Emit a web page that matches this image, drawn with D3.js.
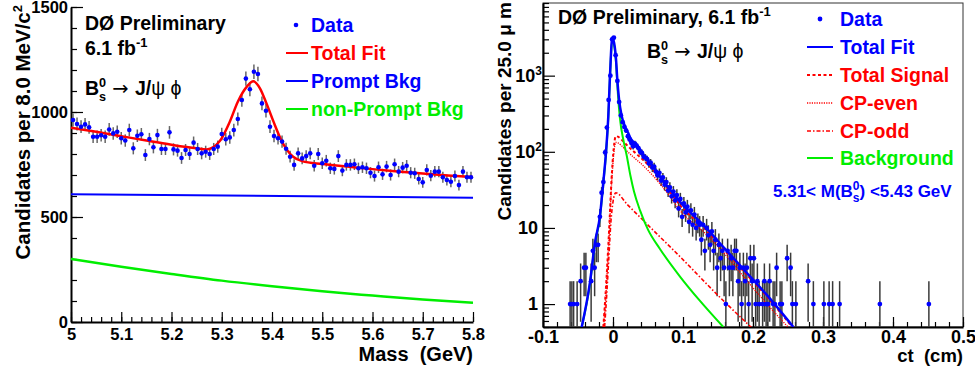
<!DOCTYPE html>
<html>
<head>
<meta charset="utf-8">
<script src="https://cdn.jsdelivr.net/npm/d3@7"></script>
<style>
  body { margin: 0; background: #fff; }
  svg text { font-family: "Liberation Sans", Arial, Helvetica, sans-serif; font-weight: bold; }
</style>
</head>
<body>
<svg id="chart" width="975" height="371"></svg>
<script>
// ---------- left: mass distribution, 8 MeV bins from 5.0 GeV ----------
const massLow = 5.0, massBinWidth = 0.008;
const massCounts = [
  962, 943, 930, 941, 927, 882, 882, 889, 882, 917,
  898, 906, 875, 864, 914, 827, 887, 894, 795, 871,
  832, 890, 824, 824, 903, 822, 816, 781, 819, 800,
  854, 824, 803, 811, 800, 824, 835, 895, 870, 879,
  914, 967, 1057, 1159, 1108, 1192, 1181, 1041, 1006, 930,
  886, 875, 859, 825, 787, 748, 803, 779, 790, 803,
  744, 800, 756, 768, 732, 729, 790, 721, 748, 748,
  751, 732, 737, 732, 711, 695, 737, 703, 740, 700,
  751, 716, 735, 744, 711, 708, 681, 665, 724, 697,
  716, 716, 689, 676, 668, 695, 652, 716, 689, 689
];
const massTotalFit = [
  [5.00, 925], [5.05, 906], [5.10, 885], [5.15, 864], [5.20, 844], [5.25, 827],
  [5.27, 822], [5.2965, 863], [5.316, 954], [5.332, 1049], [5.350, 1121],
  [5.363, 1146], [5.376, 1113], [5.389, 1041], [5.403, 954], [5.416, 879],
  [5.429, 822], [5.442, 787], [5.46, 766], [5.50, 752], [5.55, 740], [5.60, 728],
  [5.65, 717], [5.70, 707], [5.75, 698], [5.80, 690]
];
const massPromptBkg = [[5.0, 608], [5.8, 592]];
const massNonPromptBkg = [
  [5.0, 300], [5.1, 263], [5.2, 229], [5.3, 197], [5.4, 170],
  [5.5, 146], [5.6, 126], [5.7, 107], [5.8, 92]
];
const massTicks = [5, 5.1, 5.2, 5.3, 5.4, 5.5, 5.6, 5.7, 5.8];
const massTickLabels = ["5", "5.1", "5.2", "5.3", "5.4", "5.5", "5.6", "5.7", "5.8"];
const candTicks = [0, 500, 1000, 1500];
const candTickLabels = ["0", "500", "1000", "1500"];

// ---------- right: proper decay length, 25 um bins ----------
const ctData = [
  [-0.06125, 1], [-0.05875, 1], [-0.05625, 1], [-0.05125, 1], [-0.04625, 2],
  [-0.04125, 3], [-0.03875, 3], [-0.03125, 2], [-0.02875, 5], [-0.02625, 3],
  [-0.02375, 6], [-0.02125, 6], [-0.01875, 14], [-0.01625, 29], [-0.01375, 40],
  [-0.01125, 98], [-0.00875, 208], [-0.00625, 480], [-0.00375, 1000], [-0.00125, 3000],
  [0.00125, 3150], [0.00375, 1860], [0.00625, 854], [0.00875, 450], [0.01125, 300],
  [0.01375, 245], [0.01625, 212], [0.01875, 190], [0.02125, 160], [0.02375, 145],
  [0.02625, 130], [0.02875, 118], [0.03125, 128], [0.03375, 120], [0.03625, 112],
  [0.03875, 100], [0.04125, 97], [0.04375, 86], [0.04625, 84], [0.04875, 80],
  [0.05125, 70], [0.05375, 72], [0.05625, 62], [0.05875, 64], [0.06125, 55],
  [0.06375, 49], [0.06625, 53], [0.06875, 42], [0.07125, 46], [0.07375, 37],
  [0.07625, 40], [0.07875, 31], [0.08125, 34], [0.08375, 26], [0.08625, 30],
  [0.08875, 23], [0.09125, 27], [0.09375, 18], [0.09625, 24], [0.09875, 14],
  [0.10125, 21], [0.10375, 16], [0.10625, 19], [0.10875, 12], [0.11125, 17],
  [0.11375, 11], [0.11625, 15], [0.11875, 10], [0.12125, 12], [0.12375, 11],
  [0.12625, 7], [0.12875, 11], [0.13125, 5], [0.13375, 10], [0.13625, 8],
  [0.13875, 6], [0.14125, 9], [0.14375, 5], [0.14625, 7], [0.14875, 3],
  [0.15125, 6], [0.15375, 4], [0.15625, 5], [0.15875, 3], [0.16125, 1],
  [0.16375, 5], [0.16625, 3], [0.16875, 4], [0.17125, 3], [0.17375, 5],
  [0.17625, 5], [0.17875, 2], [0.18125, 3], [0.18375, 1], [0.18625, 3],
  [0.18875, 2], [0.19125, 3], [0.19375, 1], [0.19625, 4], [0.19875, 2],
  [0.20125, 4], [0.20375, 1], [0.20625, 2], [0.20875, 1], [0.21375, 1],
  [0.21625, 2], [0.21875, 1], [0.22125, 1], [0.22375, 2], [0.22875, 1],
  [0.23125, 1], [0.23375, 3], [0.23875, 1], [0.24125, 1], [0.24875, 4],
  [0.25375, 3], [0.25625, 1], [0.26125, 1], [0.27875, 2], [0.28625, 1],
  [0.30125, 1], [0.30875, 1], [0.31375, 1], [0.32375, 1], [0.38125, 1], [0.45125, 1]
];
const ctTotalFit = [
  [-0.0447, 0.5], [-0.0329, 1.93], [-0.0257, 6.45], [-0.0186, 14.4], [-0.0139, 39.5],
  [-0.0100, 98], [-0.0067, 295], [-0.0043, 1000], [-0.0010, 3200], [0.0004, 3000],
  [0.0043, 1650], [0.0061, 900], [0.0086, 490], [0.0124, 295], [0.0171, 215],
  [0.0219, 175], [0.0243, 155], [0.0314, 128], [0.0386, 108], [0.0433, 92],
  [0.0576, 63], [0.0696, 44], [0.0814, 32], [0.0957, 22], [0.130, 10.7],
  [0.160, 5.3], [0.190, 2.64], [0.220, 1.31], [0.2576, 0.5]
];
const ctSignal = [
  [-0.0138, 0.5], [-0.011, 1.2], [-0.008, 3.5], [-0.005, 12], [-0.002, 45],
  [0.001, 110], [0.004, 160], [0.007, 158], [0.012, 145], [0.02, 122], [0.03, 100],
  [0.04, 83], [0.0576, 57], [0.0814, 30], [0.0957, 20], [0.13, 10], [0.16, 5.0],
  [0.19, 2.5], [0.22, 1.25], [0.2576, 0.48]
];
const ctCpEven = [
  [-0.0135, 0.5], [-0.011, 1.0], [-0.008, 3], [-0.005, 10], [-0.002, 38],
  [0.001, 92], [0.004, 133], [0.007, 131], [0.012, 121], [0.02, 102], [0.03, 84],
  [0.04, 70], [0.0576, 48], [0.0814, 26], [0.0957, 17], [0.13, 8.8], [0.16, 4.5],
  [0.19, 2.1], [0.22, 1.0], [0.25, 0.5]
];
const ctCpOdd = [
  [-0.012, 0.5], [-0.009, 1.3], [-0.006, 4], [-0.003, 12], [0.000, 22], [0.004, 29],
  [0.02, 20.5], [0.05, 10.9], [0.0957, 4.2], [0.15, 1.3], [0.2, 0.47]
];
const ctBackground = [
  [-0.0447, 0.5], [-0.0329, 1.85], [-0.0257, 6.2], [-0.0186, 13.8], [-0.0139, 38],
  [-0.0100, 94], [-0.0067, 285], [-0.0043, 970], [-0.0010, 3050], [0.0004, 2850],
  [0.0043, 1500], [0.0071, 560], [0.0100, 270], [0.0150, 140], [0.0195, 90],
  [0.025, 48], [0.030, 30], [0.0386, 17], [0.050, 9.5], [0.0671, 5.3],
  [0.0957, 2.3], [0.1243, 1.1], [0.1576, 0.5]
];
const ctTicks = [-0.1, 0, 0.1, 0.2, 0.3, 0.4, 0.5];
const ctTickLabels = ["-0.1", "0", "0.1", "0.2", "0.3", "0.4", "0.5"];
const ctCountTicks = [1, 10, 100, 1000];

const BLUE = "#0000ff", RED = "#ff0000", GREEN = "#00ee00";
const svg = d3.select("#chart");

function styleAxis(g, width) {
  g.select(".domain").attr("stroke", "#000").attr("stroke-width", width);
  g.selectAll(".tick line").attr("stroke", "#000").attr("stroke-width", 1.2);
  g.selectAll("text").attr("fill", "#000");
}

function bsDecay(g, x, y, size) {
  const t = g.append("text").attr("x", x).attr("y", y).attr("font-size", size);
  t.append("tspan").text("B");
  t.append("tspan").attr("font-size", size * 0.65).attr("dy", -size * 0.42).text("0");
  t.append("tspan").attr("font-size", size * 0.65).attr("dx", -size * 0.36).attr("dy", size * 0.72).text("s");
  t.append("tspan").attr("dy", -size * 0.30).attr("font-weight", "normal")
    .style("font-family", "'DejaVu Sans', sans-serif").text(" \u2192 ");
  t.append("tspan").text("J/");
  t.append("tspan").attr("font-weight", "normal").text("\u03c8 \u03d5");
  return t;
}

// ================= left panel =================
const L = { x0: 71, x1: 473, y0: 7, y1: 322 };
const xM = d3.scaleLinear().domain([5.0, 5.8]).range([L.x0, L.x1]);
const yM = d3.scaleLinear().domain([0, 1500]).range([L.y1, L.y0]);
const gl = svg.append("g");

gl.append("g").attr("transform", `translate(0,${L.y1})`)
  .call(d3.axisBottom(xM).tickValues(d3.range(0, 41).map(i => 5 + i * 0.02)).tickSize(-5).tickSizeOuter(0).tickFormat(""))
  .call(g => { g.select(".domain").remove(); g.selectAll(".tick line").attr("stroke", "#000").attr("stroke-width", 1.2); });
gl.append("g").attr("transform", `translate(${L.x0},0)`)
  .call(d3.axisLeft(yM).tickValues(d3.range(0, 16).map(i => i * 100)).tickSize(-6).tickSizeOuter(0).tickFormat(""))
  .call(g => { g.select(".domain").remove(); g.selectAll(".tick line").attr("stroke", "#000").attr("stroke-width", 1.2); });

gl.append("g").attr("transform", `translate(0,${L.y1})`)
  .call(d3.axisBottom(xM).tickValues(massTicks).tickSize(-10).tickSizeOuter(0).tickPadding(6)
    .tickFormat((d, i) => massTickLabels[i]))
  .call(g => styleAxis(g, 2))
  .selectAll("text").attr("font-size", 16.5);
gl.append("g").attr("transform", `translate(${L.x0},0)`)
  .call(d3.axisLeft(yM).tickValues(candTicks).tickSize(-12).tickSizeOuter(0).tickPadding(3)
    .tickFormat((d, i) => candTickLabels[i]))
  .call(g => styleAxis(g, 2))
  .selectAll("text").attr("font-size", 16.5);

const lineM = d3.line().x(d => xM(d[0])).y(d => yM(d[1])).curve(d3.curveMonotoneX);
gl.append("path").datum(massPromptBkg).attr("d", lineM).attr("fill", "none").attr("stroke", BLUE).attr("stroke-width", 2);
gl.append("path").datum(massNonPromptBkg).attr("d", lineM).attr("fill", "none").attr("stroke", GREEN).attr("stroke-width", 2.5);

const massPts = massCounts.map((n, i) => ({ m: massLow + massBinWidth * (i + 0.5), n }));
gl.append("g").selectAll("line").data(massPts).join("line")
  .attr("x1", d => xM(d.m)).attr("x2", d => xM(d.m))
  .attr("y1", d => yM(d.n - Math.sqrt(d.n))).attr("y2", d => yM(d.n + Math.sqrt(d.n)))
  .attr("stroke", "#666").attr("stroke-width", 1.5);
gl.append("path").datum(massTotalFit).attr("d", lineM).attr("fill", "none").attr("stroke", RED).attr("stroke-width", 2.5);
gl.append("g").selectAll("circle").data(massPts).join("circle")
  .attr("cx", d => xM(d.m)).attr("cy", d => yM(d.n)).attr("r", 2.3).attr("fill", BLUE);

gl.append("text").attr("x", L.x1).attr("y", 361).attr("text-anchor", "end").attr("font-size", 20)
  .text("Mass\u00a0 (GeV)");
const ytl = gl.append("text").attr("transform", "translate(30,5) rotate(-90)").attr("text-anchor", "end").attr("font-size", 20.5);
ytl.append("tspan").text("Candidates per 8.0 MeV/c");
ytl.append("tspan").attr("font-size", 13).attr("dy", -8).text("2");

const LF = 19.5;
gl.append("text").attr("x", 85).attr("y", 30).attr("font-size", LF).text("D\u00d8 Preliminary");
const lum = gl.append("text").attr("x", 85).attr("y", 55).attr("font-size", LF).text("6.1 fb");
lum.append("tspan").attr("font-size", 13).attr("dy", -8).text("-1");
bsDecay(gl, 85, 95, LF);

const legL = [
  { label: "Data", color: BLUE, kind: "dot", y: 25 },
  { label: "Total Fit", color: RED, kind: "line", y: 53 },
  { label: "Prompt Bkg", color: BLUE, kind: "line", y: 81 },
  { label: "non-Prompt Bkg", color: GREEN, kind: "line", y: 109 }
];
legL.forEach(d => {
  if (d.kind === "dot") gl.append("circle").attr("cx", 296).attr("cy", d.y).attr("r", 2.3).attr("fill", d.color);
  else gl.append("line").attr("x1", 286).attr("x2", 308).attr("y1", d.y).attr("y2", d.y).attr("stroke", d.color).attr("stroke-width", 2);
  gl.append("text").attr("x", 311).attr("y", d.y + 7).attr("font-size", LF).attr("fill", d.color).text(d.label);
});

// ================= right panel =================
const R = { x0: 543, x1: 963, y0: 3, y1: 327 };
const xC = d3.scaleLinear().domain([-0.1, 0.5]).range([R.x0, R.x1]);
const yC = d3.scaleLog().domain([0.5, 9000]).range([R.y1, R.y0]);
const gr = svg.append("g");

svg.append("defs").append("clipPath").attr("id", "clipR")
  .append("rect").attr("x", R.x0).attr("y", R.y0).attr("width", R.x1 - R.x0).attr("height", R.y1 - R.y0);

gr.append("rect").attr("x", R.x0).attr("y", R.y0).attr("width", R.x1 - R.x0).attr("height", R.y1 - R.y0)
  .attr("fill", "none").attr("stroke", "#333").attr("stroke-width", 1);

const logMinor = [];
[0.1, 1, 10, 100, 1000].forEach(dec => { for (let k = 2; k <= 9; k++) { const v = k * dec; if (v >= 0.5 && v <= 9000) logMinor.push(v); } });

gr.append("g").attr("transform", `translate(0,${R.y1})`)
  .call(d3.axisBottom(xC).tickValues(d3.range(0, 31).map(i => -0.1 + i * 0.02)).tickSize(-5).tickSizeOuter(0).tickFormat(""))
  .call(g => { g.select(".domain").remove(); g.selectAll(".tick line").attr("stroke", "#000").attr("stroke-width", 1.2); });
gr.append("g").attr("transform", `translate(${R.x0},0)`)
  .call(d3.axisLeft(yC).tickValues(logMinor).tickSize(-6).tickSizeOuter(0).tickFormat(""))
  .call(g => { g.select(".domain").remove(); g.selectAll(".tick line").attr("stroke", "#000").attr("stroke-width", 1.2); });

gr.append("g").attr("transform", `translate(0,${R.y1})`)
  .call(d3.axisBottom(xC).tickValues(ctTicks).tickSize(-10).tickSizeOuter(0).tickPadding(3)
    .tickFormat((d, i) => ctTickLabels[i]))
  .call(g => styleAxis(g, 2))
  .selectAll("text").attr("font-size", 18);
const yAxR = gr.append("g").attr("transform", `translate(${R.x0},0)`)
  .call(d3.axisLeft(yC).tickValues(ctCountTicks).tickSize(-12).tickSizeOuter(0).tickPadding(5)
    .tickFormat(d => d >= 100 ? "10" : String(d)))
  .call(g => styleAxis(g, 2));
yAxR.selectAll(".tick text").attr("font-size", 18).each(function (d) {
  if (d >= 100) {
    const t = d3.select(this).attr("x", -1);
    t.append("tspan").attr("font-size", 12).attr("dy", "-0.55em").text(Math.round(Math.log10(d)));
  }
});

const plotR = gr.append("g").attr("clip-path", "url(#clipR)");
const lineC = d3.line().x(d => xC(d[0])).y(d => yC(d[1])).curve(d3.curveMonotoneX);
const yClamp = v => yC(Math.max(v, 0.5));

plotR.append("g").selectAll("line").data(ctData).join("line")
  .attr("x1", d => xC(d[0])).attr("x2", d => xC(d[0]))
  .attr("y1", d => yClamp(d[1] - Math.sqrt(d[1]))).attr("y2", d => yClamp(d[1] + Math.sqrt(d[1])))
  .attr("stroke", "#3a3a3a").attr("stroke-width", 1.5);

plotR.append("path").datum(ctCpOdd).attr("d", lineC).attr("fill", "none").attr("stroke", RED)
  .attr("stroke-width", 1.6).attr("stroke-dasharray", "4,2,1.5,2");
plotR.append("path").datum(ctCpEven).attr("d", lineC).attr("fill", "none").attr("stroke", RED)
  .attr("stroke-width", 1.4).attr("stroke-dasharray", "1.2,1.2");
plotR.append("path").datum(ctSignal).attr("d", lineC).attr("fill", "none").attr("stroke", RED)
  .attr("stroke-width", 2).attr("stroke-dasharray", "3,2.5");
plotR.append("path").datum(ctBackground).attr("d", lineC).attr("fill", "none").attr("stroke", GREEN).attr("stroke-width", 2);
plotR.append("g").selectAll("circle").data(ctData).join("circle")
  .attr("cx", d => xC(d[0])).attr("cy", d => yC(d[1])).attr("r", 2.4).attr("fill", BLUE);
plotR.append("path").datum(ctTotalFit).attr("d", lineC).attr("fill", "none").attr("stroke", BLUE).attr("stroke-width", 2.5);

gr.append("text").attr("x", R.x1).attr("y", 362).attr("text-anchor", "end").attr("font-size", 18.5)
  .text("ct\u00a0 (cm)");
gr.append("text").attr("transform", "translate(511,2) rotate(-90)").attr("text-anchor", "end").attr("font-size", 19)
  .text("Candidates per 25.0 \u03bc m");

const hdr = gr.append("text").attr("x", 558).attr("y", 24).attr("font-size", LF).text("D\u00d8 Preliminary, 6.1 fb");
hdr.append("tspan").attr("font-size", 13).attr("dy", -8).text("-1");
bsDecay(gr, 647, 58, LF);

const legR = [
  { label: "Data", color: BLUE, kind: "dot", dash: null, w: 0, y: 19 },
  { label: "Total Fit", color: BLUE, kind: "line", dash: null, w: 2, y: 47 },
  { label: "Total Signal", color: RED, kind: "line", dash: "3,2.5", w: 2, y: 75 },
  { label: "CP-even", color: RED, kind: "line", dash: "1.2,1.2", w: 1.5, y: 103 },
  { label: "CP-odd", color: RED, kind: "line", dash: "4,2,1.5,2", w: 1.6, y: 131 },
  { label: "Background", color: GREEN, kind: "line", dash: null, w: 2, y: 158 }
];
legR.forEach(d => {
  if (d.kind === "dot") gr.append("circle").attr("cx", 820).attr("cy", d.y).attr("r", 2.4).attr("fill", d.color);
  else gr.append("line").attr("x1", 807).attr("x2", 833).attr("y1", d.y).attr("y2", d.y)
    .attr("stroke", d.color).attr("stroke-width", d.w).attr("stroke-dasharray", d.dash);
  gr.append("text").attr("x", 840).attr("y", d.y + 7).attr("font-size", LF).attr("fill", d.color).text(d.label);
});

const win = gr.append("text").attr("x", 773).attr("y", 197).attr("font-size", 17).attr("fill", BLUE);
win.append("tspan").text("5.31< M(B");
win.append("tspan").attr("font-size", 12).attr("dy", -7).text("0");
win.append("tspan").attr("font-size", 12).attr("dx", -6.7).attr("dy", 12).text("s");
win.append("tspan").attr("dy", -5).text(") <5.43 GeV");
</script>
</body>
</html>
